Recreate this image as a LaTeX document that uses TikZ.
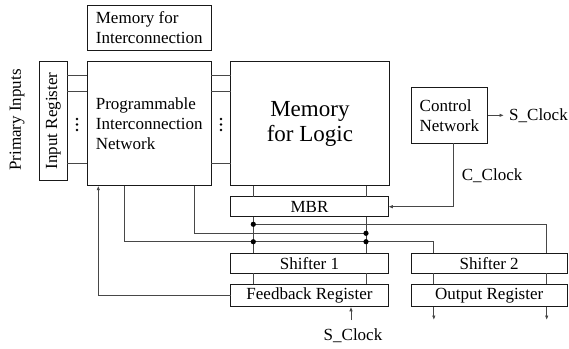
\documentclass[tikz,border=0pt]{standalone}
\usepackage{fontspec}
\setmainfont{LiberationSerif}[Extension=.ttf,UprightFont=*-Regular,BoldFont=*-Bold,ItalicFont=*-Italic,BoldItalicFont=*-BoldItalic]
\usetikzlibrary{arrows.meta}
\begin{document}
\begin{tikzpicture}[x=1bp,y=-1bp,
  box/.style={draw=black!90,line width=1bp,inner sep=0pt,outer sep=0pt,font=\fontsize{17bp}{20bp}\selectfont},
  txt/.style={inner sep=0pt,font=\fontsize{17bp}{20bp}\selectfont},
  wire/.style={draw=black!72,line width=0.85bp},
  arr/.style={wire,-{Latex[length=4.5bp,width=3.5bp]}},
  jdot/.style={fill=black}]
\useasboundingbox (0,0) rectangle (569,348);
% boxes
\node[box,minimum width=123.7bp,minimum height=45bp,align=left] (memint) at (149.2,27.5) {Memory for\\Interconnection};
\node[box,minimum width=118.3bp,minimum height=28bp,rotate=90] (inreg) at (53.3,120.9) {Input Register};
\node[box,minimum width=123.7bp,minimum height=124bp,align=left] (pin) at (149.2,123.7) {Programmable\\Interconnection\\Network};
\node[box,minimum width=158.3bp,minimum height=124bp,align=center,font=\fontsize{23bp}{25bp}\selectfont] (mfl) at (309.9,123.7) {Memory\\for Logic};
\node[box,minimum width=76.7bp,minimum height=56bp,align=left] (ctrl) at (449.4,115.3) {Control\\Network};
\node[box,minimum width=157.6bp,minimum height=20bp] (mbr) at (309.5,206.7) {MBR};
\node[box,minimum width=157.6bp,minimum height=20bp] (sh1) at (309.5,263.3) {Shifter 1};
\node[box,minimum width=156.3bp,minimum height=20bp] (sh2) at (489.2,263.3) {Shifter 2};
\node[box,minimum width=157.6bp,minimum height=22.7bp] (fb) at (309.5,295.4) {Feedback Register};
\node[box,minimum width=156.3bp,minimum height=22.7bp] (out) at (489.2,295.4) {Output Register};
% labels
\node[txt,rotate=90] (prim) at (17,120) {Primary Inputs};
\node[txt,anchor=west] (sclk1) at (509,115.3) {S\_Clock};
\node[txt,anchor=base west] (cclk) at (461.7,180) {C\_Clock};
\node[txt,anchor=base] (sclk2) at (353,340) {S\_Clock};
% coordinates
\coordinate (xa) at (253.3,0);
\coordinate (xb) at (366,0);
\coordinate (xp1) at (124,0);
\coordinate (xp2) at (194.3,0);
\coordinate (xf) at (98.3,0);
\coordinate (xc) at (453.3,0);
\coordinate (xo1) at (433.8,0);
\coordinate (xo2) at (546.7,0);
\coordinate (ja1) at (253.3,224.3);
\coordinate (ja2) at (546.7,224.3);
\coordinate (jb2) at (366,233.3);
\coordinate (jc1) at (253.3,241.7);
\coordinate (jc2) at (366,241.7);
\coordinate (jc3) at (433.8,241.7);
\coordinate (sc) at (351,320);
\coordinate (o1) at (433.8,320);
\coordinate (o2) at (546.7,320);
% wires between input register, PIN and memory for logic
\foreach \yy in {75.3,91.7,163.3}{
  \coordinate (r) at (0,\yy);
  \draw[wire] (inreg.south |- r) -- (pin.west |- r);
  \draw[wire] (pin.east |- r) -- (mfl.west |- r);
}
% ellipsis dots
\foreach \yy in {119,124.5,130}{
  \fill (77,\yy) circle (1.4bp);
  \fill (221,\yy) circle (1.4bp);
}
% vertical buses
\draw[wire] (mfl.south -| xa) -- (mbr.north -| xa);
\draw[wire] (mfl.south -| xb) -- (mbr.north -| xb);
\draw[wire] (mbr.south -| xa) -- (sh1.north -| xa);
\draw[wire] (mbr.south -| xb) -- (sh1.north -| xb);
\draw[wire] (sh1.south -| xa) -- (fb.north -| xa);
\draw[wire] (sh1.south -| xb) -- (fb.north -| xb);
% PIN outputs
\draw[wire] (pin.south -| xp1) |- (jc1) -- (jc2) -- (jc3) -- (sh2.north -| xo1);
\draw[wire] (pin.south -| xp2) |- (jb2);
\draw[wire] (ja1) -- (ja2) -- (sh2.north -| xo2);
% shifter 2 to output register
\draw[wire] (sh2.south -| xo1) -- (out.north -| xo1);
\draw[wire] (sh2.south -| xo2) -- (out.north -| xo2);
\draw[arr] (out.south -| xo1) -- (o1);
\draw[arr] (out.south -| xo2) -- (o2);
% feedback
\draw[arr] (fb.west) -| (pin.south -| xf);
% clocks
\draw[arr] (ctrl.south -| xc) |- (mbr.east);
\draw[arr] (ctrl.east) -- ([xshift=-5bp]sclk1.west);
\draw[arr] (sc) -- (fb.south -| sc);
% junction dots
\fill[jdot] (ja1) circle (2.6bp);
\fill[jdot] (jc1) circle (2.6bp);
\fill[jdot] (jb2) circle (2.6bp);
\fill[jdot] (jc2) circle (2.6bp);
\end{tikzpicture}
\end{document}
